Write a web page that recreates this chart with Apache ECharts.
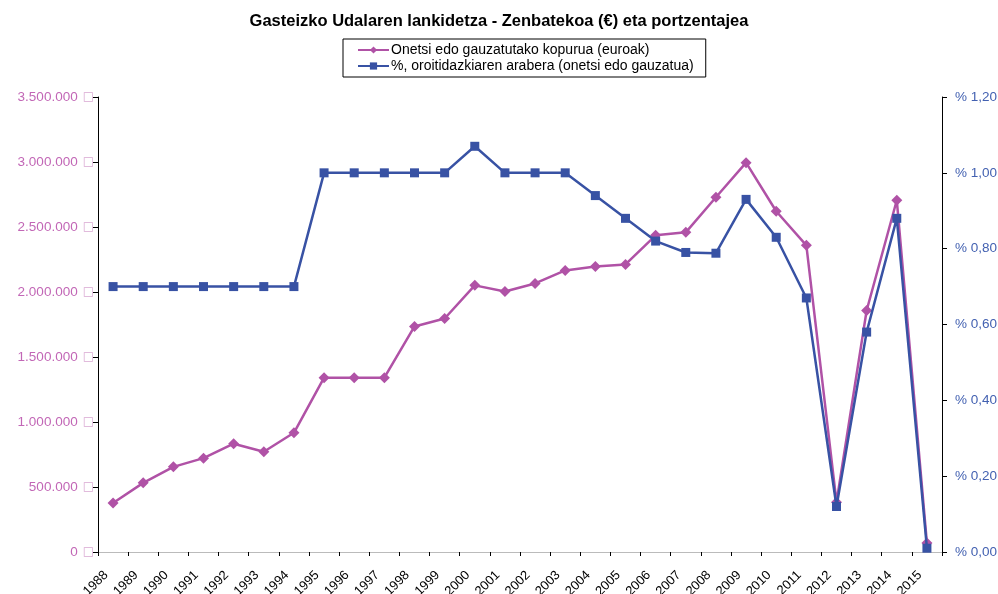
<!DOCTYPE html>
<html>
<head>
<meta charset="utf-8">
<script src="https://cdn.jsdelivr.net/npm/echarts@6/dist/echarts.min.js"></script>
<style>
  html, body { margin: 0; padding: 0; background: #fff; }
  #chart { width: 998px; height: 594px; }
</style>
</head>
<body>
<div id="chart"></div>
<script>
// urteak
let years = ['1988', '1989', '1990', '1991', '1992', '1993', '1994', '1995', '1996', '1997',
  '1998', '1999', '2000', '2001', '2002', '2003', '2004', '2005', '2006', '2007',
  '2008', '2009', '2010', '2011', '2012', '2013', '2014', '2015'];
// onetsi edo gauzatutako kopurua (euroak)
let amounts = [377000, 532000, 655000, 722000, 833000, 771000, 917000, 1341000, 1341000, 1341000,
  1735000, 1796000, 2051000, 2004000, 2066000, 2166000, 2197000, 2212000, 2436000, 2459000,
  2729000, 2995000, 2621000, 2359000, 383000, 1858000, 2706000, 69000];
// portzentajea
let percents = [0.70, 0.70, 0.70, 0.70, 0.70, 0.70, 0.70, 1.00, 1.00, 1.00,
  1.00, 1.00, 1.07, 1.00, 1.00, 1.00, 0.94, 0.88, 0.82, 0.79,
  0.788, 0.93, 0.83, 0.67, 0.12, 0.58, 0.88, 0.01];

let colors = {
  purple: '#b052a6',
  purpleText: '#c267b6',
  purpleBox: '#d9a8d3',
  blue: '#3852a4',
  blueText: '#4361b1',
  axis: '#000000'
};
let font = 'Liberation Sans, Arial, sans-serif';

function fmtEuro(v) {
  let s = String(v).replace(/\B(?=(\d{3})+(?!\d))/g, '.');
  return '{a|' + s + '}{b|\u25A1}';
}
function fmtPct(v) {
  return '% ' + v.toFixed(2).replace('.', ',');
}

let chart = echarts.init(document.getElementById('chart'));
let option = {
  animation: false,
  textStyle: { fontFamily: font },
  title: {
    text: 'Gasteizko Udalaren lankidetza - Zenbatekoa (€) eta portzentajea',
    left: 'center',
    top: 8,
    textStyle: { fontSize: 16.5, fontWeight: 'bold', color: '#000', fontFamily: font }
  },
  legend: {
    orient: 'vertical',
    left: 343,
    top: 39,
    itemWidth: 31,
    itemHeight: 9,
    itemGap: 2,
    padding: [4, 12, 4, 14],
    borderColor: '#000',
    borderWidth: 1,
    textStyle: { fontSize: 14, color: '#000', padding: [0, 0, 0, -3] },
    data: ['Onetsi edo gauzatutako kopurua (euroak)', '%, oroitidazkiaren arabera (onetsi edo gauzatua)']
  },
  grid: { left: 98, right: 56, top: 97, bottom: 42, containLabel: false, outerBoundsMode: 'none' },
  xAxis: [{
    type: 'category',
    data: years,
    boundaryGap: true,
    axisLine: { lineStyle: { color: colors.axis, width: 1 } },
    axisTick: { show: true, length: 4, lineStyle: { color: colors.axis } },
    axisLabel: { rotate: 45, fontSize: 13, color: '#000', margin: 14, interval: 0, padding: [0, 10, 0, 0] },
    splitLine: { show: false }
  }, {
    type: 'category',
    data: years,
    position: 'top',
    axisLine: { lineStyle: { color: '#bbbbbb', width: 1 } },
    axisTick: { show: false },
    axisLabel: { show: false }
  }],
  yAxis: [{
    type: 'value',
    min: 0,
    max: 3500000,
    interval: 500000,
    position: 'left',
    axisLine: { show: true, lineStyle: { color: colors.axis } },
    axisTick: { show: true, length: 5, lineStyle: { color: colors.axis } },
    axisLabel: {
      formatter: fmtEuro,
      margin: 4,
      rich: {
        a: { color: colors.purpleText, fontSize: 13.5, fontFamily: font },
        b: { color: colors.purpleBox, fontSize: 12, fontFamily: 'DejaVu Sans', padding: [0, 0, 0, 5] }
      }
    },
    splitLine: { show: false }
  }, {
    type: 'value',
    min: 0,
    max: 1.2,
    interval: 0.2,
    position: 'right',
    axisLine: { show: true, lineStyle: { color: colors.axis } },
    axisTick: { show: true, length: 5, lineStyle: { color: colors.axis } },
    axisLabel: { formatter: fmtPct, color: colors.blueText, fontSize: 13.5, margin: 13 },
    splitLine: { show: false }
  }],
  series: [{
    name: 'Onetsi edo gauzatutako kopurua (euroak)',
    type: 'line',
    yAxisIndex: 0,
    data: amounts,
    symbol: 'diamond',
    symbolSize: 11,
    color: colors.purple,
    lineStyle: { width: 2.5, color: colors.purple },
    itemStyle: { color: colors.purple },
    z: 2
  }, {
    name: '%, oroitidazkiaren arabera (onetsi edo gauzatua)',
    type: 'line',
    yAxisIndex: 1,
    data: percents,
    symbol: 'rect',
    symbolSize: 9,
    color: colors.blue,
    lineStyle: { width: 2.5, color: colors.blue },
    itemStyle: { color: colors.blue },
    z: 3
  }]
};
chart.setOption(option);
</script>
</body>
</html>
